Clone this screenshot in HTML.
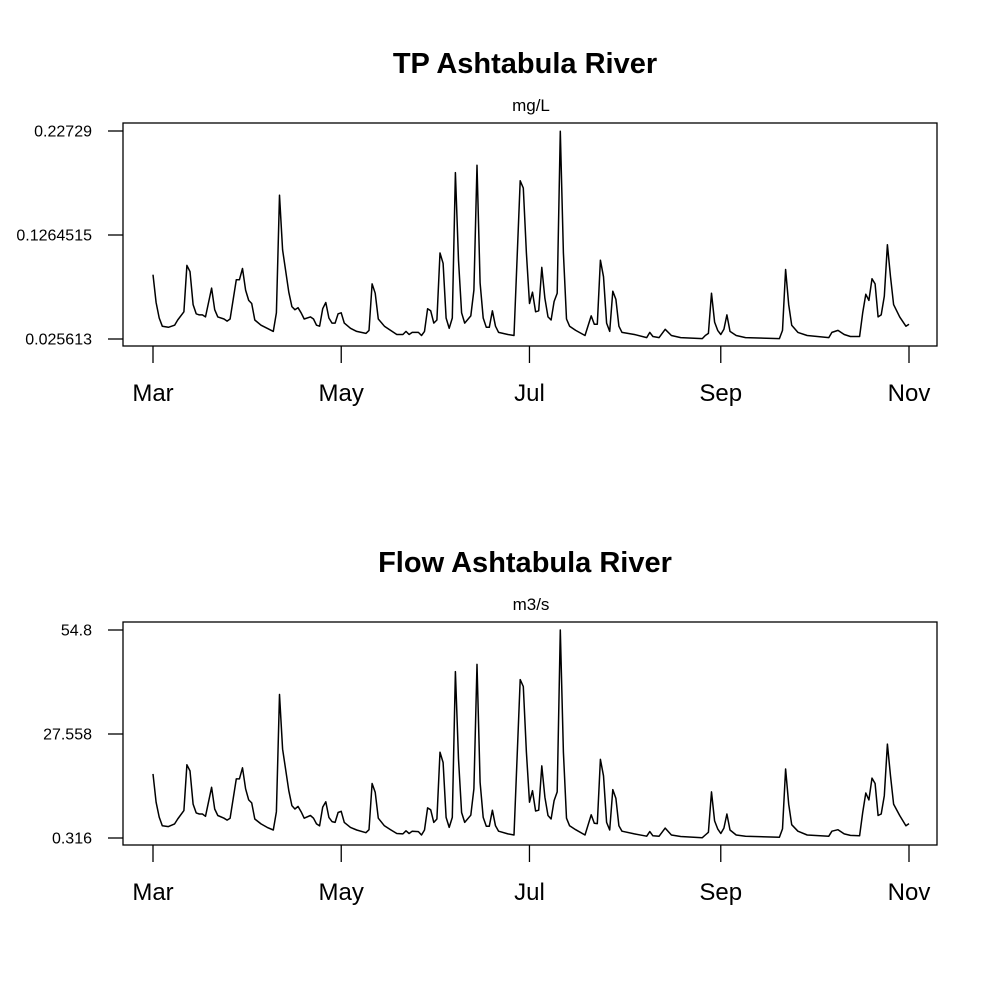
<!DOCTYPE html>
<html><head><meta charset="utf-8"><style>
html,body{margin:0;padding:0;background:#fff;}
svg{display:block;font-family:"Liberation Sans",Arial,sans-serif;}
</style></head><body>
<svg id="chart" width="1000" height="1000" viewBox="0 0 1000 1000"></svg>
<script>
const days = [0,1,2,3,5,7,8,10,11,12,13,14,15,16,17,19,20,21,23,24,25,27,28,29,30,31,32,33,35,37,39,40,41,42,44,45,46,47,48,49,51,52,53,54,55,56,57,58,59,60,61,62,64,66,69,70,71,72,73,75,77,79,81,82,83,84,86,87,88,89,90,91,92,93,94,95,96,97,98,99,100,101,103,104,105,106,107,108,109,110,111,112,115,117,119,120,121,122,123,124,125,126,127,128,129,130,131,132,133,134,135,137,140,142,143,144,145,146,147,148,149,150,151,152,156,160,161,162,164,166,168,171,178,179,180,181,182,183,184,185,186,187,189,192,203,204,205,206,207,209,212,219,220,222,224,226,229,230,231,232,233,234,235,236,237,238,239,240,242,244,245];
const flowValues = [17.1,9.7,5.8,3.5,3.3,4.0,5.3,7.5,19.5,17.9,9.2,6.9,6.6,6.6,6.0,13.6,7.9,6.2,5.5,5.0,5.5,15.8,15.8,18.7,13.2,10.3,9.5,5.3,4.0,3.1,2.4,7.2,37.9,23.6,12.7,8.8,7.9,8.6,7.2,5.5,6.2,5.5,4.0,3.5,8.4,9.8,5.7,4.6,4.4,7.0,7.3,4.4,3.1,2.4,1.7,2.5,14.6,12.3,5.5,3.5,2.5,1.5,1.4,2.2,1.5,2.1,2.0,1.1,2.4,8.2,7.7,4.4,5.3,22.8,20.1,5.7,3.1,5.7,43.9,21.0,7.0,4.4,6.3,13.2,45.8,14.9,5.7,3.4,3.4,7.6,3.5,2.1,1.4,1.1,41.8,40.0,22.8,9.7,12.7,7.4,7.6,19.2,11.0,6.2,5.3,10.1,12.4,54.8,22.8,5.5,3.5,2.5,1.1,6.4,4.2,4.1,20.9,16.6,4.4,2.4,13.0,10.7,3.5,2.1,1.4,0.8,2.0,0.9,0.8,2.9,1.1,0.7,0.4,1.1,1.8,12.4,4.8,2.7,1.5,2.9,6.6,2.4,1.1,0.8,0.5,2.7,18.4,9.2,3.8,2.1,1.1,0.8,2.1,2.5,1.4,1.0,0.9,7.0,12.1,10.3,16.0,14.6,6.2,6.6,11.4,24.9,16.6,9.2,6.2,3.5,4.1];
const tpValues = [0.088,0.061,0.046,0.038,0.037,0.039,0.044,0.052,0.097,0.091,0.059,0.050,0.049,0.049,0.047,0.075,0.054,0.047,0.045,0.043,0.045,0.083,0.083,0.094,0.073,0.063,0.060,0.044,0.039,0.036,0.033,0.051,0.165,0.112,0.071,0.057,0.054,0.056,0.051,0.045,0.047,0.045,0.039,0.038,0.055,0.061,0.046,0.041,0.041,0.050,0.051,0.041,0.036,0.033,0.031,0.034,0.079,0.070,0.045,0.038,0.034,0.030,0.030,0.033,0.030,0.032,0.032,0.029,0.033,0.055,0.053,0.041,0.044,0.109,0.099,0.046,0.036,0.046,0.187,0.102,0.051,0.041,0.048,0.073,0.194,0.080,0.046,0.037,0.037,0.053,0.038,0.032,0.030,0.029,0.179,0.172,0.109,0.060,0.071,0.052,0.053,0.095,0.065,0.047,0.044,0.062,0.070,0.227,0.109,0.045,0.038,0.034,0.029,0.048,0.040,0.040,0.102,0.086,0.041,0.033,0.072,0.064,0.038,0.032,0.030,0.027,0.032,0.028,0.027,0.035,0.029,0.027,0.026,0.029,0.031,0.070,0.042,0.034,0.030,0.035,0.049,0.033,0.029,0.027,0.026,0.034,0.093,0.059,0.039,0.032,0.029,0.027,0.032,0.034,0.030,0.028,0.028,0.051,0.069,0.063,0.084,0.079,0.047,0.049,0.067,0.117,0.086,0.059,0.047,0.038,0.040];
const monthLabels = ["Mar","May","Jul","Sep","Nov"];
const monthDays = [0,61,122,184,245];
const tpTicks = ["0.025613","0.1264515","0.22729"];
const flowTicks = ["0.316","27.558","54.8"];

const NS = "http://www.w3.org/2000/svg";
const svg = document.getElementById("chart");
function mk(tag, attrs, parent){
  const e = document.createElementNS(NS, tag);
  for (const k in attrs) e.setAttribute(k, attrs[k]);
  (parent||svg).appendChild(e);
  return e;
}
const xScale = d => 153 + d * (756/245);

function panel(prefix, top, title, unit, vals, ticks){
  const g = mk("g", {});
  
  
  const vmin = parseFloat(ticks[0]), vmax = parseFloat(ticks[2]);
  const y0 = top + 216, y1 = top + 8;
  const yScale = v => y0 - (v - vmin) / (vmax - vmin) * (y0 - y1);
  const t = mk("text", {x:525, y:top-50, "text-anchor":"middle", "font-size":"29", "font-weight":"bold"}, g);
  t.textContent = title;
  
  
  const s = mk("text", {x:531, y:top-12, "text-anchor":"middle", "font-size":"17"}, g);
  s.textContent = unit;
  
  
  const box = mk("rect", {x:123, y:top, width:814, height:223, fill:"none", stroke:"#000", "stroke-width":"1.3"}, g);
  
  
  for (let i=0;i<ticks.length;i++){
    const yy = yScale(parseFloat(ticks[i]));
    const tk = mk("line", {x1:108, x2:123, y1:yy, y2:yy, stroke:"#000", "stroke-width":"1.3"}, g);
    
    
    const lb = mk("text", {x:92, y:yy+5.5, "text-anchor":"end", "font-size":"16"}, g);
    lb.textContent = ticks[i];
    
    
  }
  for (let i=0;i<monthDays.length;i++){
    const xx = xScale(monthDays[i]);
    const tk = mk("line", {x1:xx, x2:xx, y1:top+223, y2:top+240, stroke:"#000", "stroke-width":"1.3"}, g);
    
    
    const lb = mk("text", {x:xx, y:top+278, "text-anchor":"middle", "font-size":"24"}, g);
    lb.textContent = monthLabels[i];
    
    
  }
  const pts = days.map((d,i)=> xScale(d).toFixed(1)+","+yScale(vals[i]).toFixed(1)).join(" ");
  const line = mk("polyline", {points:pts, fill:"none", stroke:"#000", "stroke-width":"1.5", "stroke-linejoin":"round"}, g);
  
  
}
panel("tp", 123, "TP Ashtabula River", "mg/L", tpValues, tpTicks);
panel("flow", 622, "Flow Ashtabula River", "m3/s", flowValues, flowTicks);
</script>
</body></html>
